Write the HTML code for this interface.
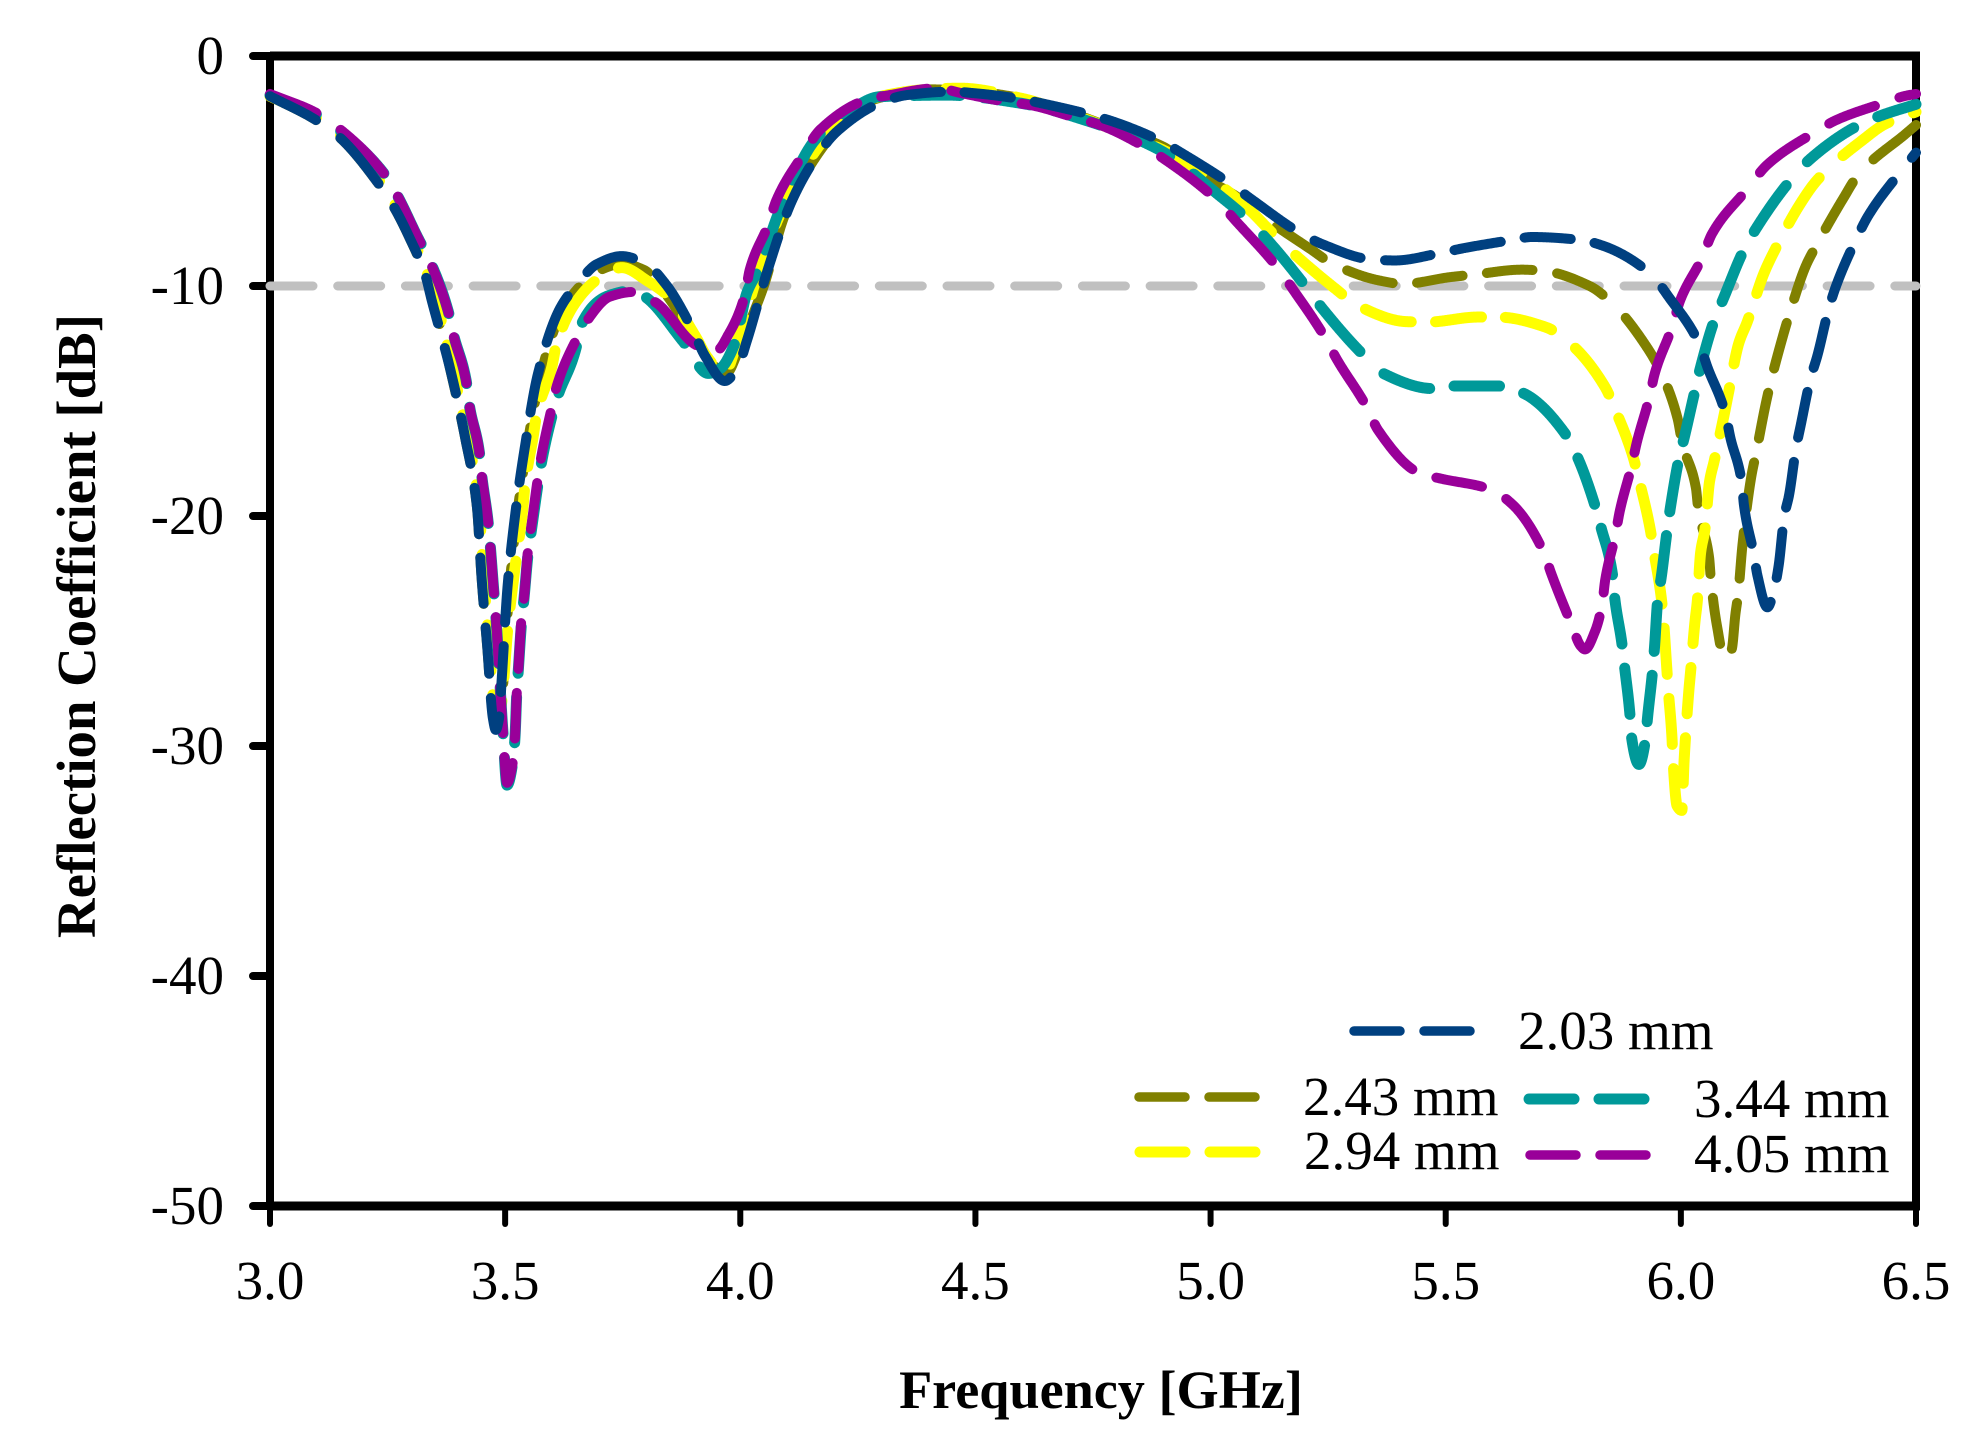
<!DOCTYPE html>
<html lang="en">
<head>
<meta charset="utf-8">
<title>Reflection Coefficient vs Frequency</title>
<style>
html,body{margin:0;padding:0;background:#fff;}
svg{display:block;}
text{font-family:"Liberation Serif","Times New Roman",serif;fill:#000;}
.tick{font-size:55px;}
.title{font-weight:bold;}
.leg{font-size:55px;}
</style>
</head>
<body>
<svg id="chart" width="1964" height="1451" viewBox="0 0 1964 1451" xmlns="http://www.w3.org/2000/svg">
  <rect width="1964" height="1451" fill="#ffffff"/>
  <g id="axes-layer"></g>
  <g id="series-layer"></g>
  <text class="title" font-size="54.2" x="1101" y="1408" text-anchor="middle">Frequency [GHz]</text>
  <text class="title" font-size="54.8" x="0" y="0" text-anchor="middle" transform="translate(95 626) rotate(-90)">Reflection Coefficient [dB]</text>
  <g>
    <g>
      <line x1="1354" y1="1031" x2="1474" y2="1031" stroke="#004080" stroke-width="9.5" stroke-linecap="round" stroke-dasharray="46 24"/>
      <text class="leg" x="1518" y="1049">2.03 mm</text>
    </g>
    <g>
      <line x1="1139" y1="1097" x2="1258" y2="1097" stroke="#808000" stroke-width="9.5" stroke-linecap="round" stroke-dasharray="46 24"/>
      <text class="leg" x="1303" y="1115">2.43 mm</text>
    </g>
    <g>
      <line x1="1140" y1="1152" x2="1259" y2="1152" stroke="#ffff00" stroke-width="11" stroke-linecap="round" stroke-dasharray="45 25"/>
      <text class="leg" x="1304" y="1169">2.94 mm</text>
    </g>
    <g>
      <line x1="1529" y1="1099" x2="1648" y2="1099" stroke="#009999" stroke-width="11" stroke-linecap="round" stroke-dasharray="45 25"/>
      <text class="leg" x="1694" y="1117">3.44 mm</text>
    </g>
    <g>
      <line x1="1530" y1="1155" x2="1649" y2="1155" stroke="#990099" stroke-width="9.5" stroke-linecap="round" stroke-dasharray="46 24"/>
      <text class="leg" x="1694" y="1172">4.05 mm</text>
    </g>
  </g>
</svg>
<script>
var xTickValues = [3.0, 3.5, 4.0, 4.5, 5.0, 5.5, 6.0, 6.5];
var xTickLabels = ["3.0", "3.5", "4.0", "4.5", "5.0", "5.5", "6.0", "6.5"];
var yTickValues = [0, -10, -20, -30, -40, -50];
var yTickLabels = ["0", "-10", "-20", "-30", "-40", "-50"];
var thresholdDb = -10;

var olive243Freq = [3.0,3.095,3.146,3.229,3.263,3.298,3.33,3.36,3.383,3.415,3.44,3.45,3.462,3.474,3.482,3.49,3.497,3.508,3.524,3.545,3.572,3.595,3.62,3.655,3.687,3.75,3.795,3.836,3.895,3.925,3.97,3.995,4.02,4.05,4.095,4.176,4.25,4.3,4.4,4.5,4.6,4.7,4.8,4.9,4.977,5.06,5.117,5.215,5.258,5.361,5.408,5.511,5.558,5.662,5.703,5.806,5.853,5.93,5.957,5.993,6.003,6.032,6.037,6.06,6.064,6.077,6.092,6.108,6.116,6.122,6.131,6.15,6.16,6.18,6.19,6.217,6.23,6.266,6.29,6.346,6.377,6.48,6.5];
var olive243Db = [-1.75,-2.75,-3.5,-5.5,-6.55,-7.96,-9.5,-11.6,-13.6,-16.6,-19.6,-22.7,-25.7,-28.6,-29.1,-28.6,-27,-23.4,-20.2,-17.2,-14.2,-12.46,-11.1,-10.1,-9.46,-9.04,-9.3,-10.2,-12,-13,-13.8,-12.87,-11.6,-10,-6.9,-3.94,-2.2,-1.8,-1.45,-1.55,-1.85,-2.45,-3.2,-3.95,-5.17,-6.17,-7.07,-8.43,-9.02,-9.77,-9.91,-9.61,-9.51,-9.29,-9.33,-10,-10.73,-12.73,-13.72,-15.76,-16.83,-18.78,-19.7,-21.8,-22.8,-24.8,-26.14,-25.8,-24.27,-23.37,-21.26,-18.26,-17.26,-15.17,-14.26,-12.18,-11.28,-9.11,-8.17,-6.17,-5.17,-3.35,-3.0];

var yellow294Freq = [3.0,3.1,3.15,3.232,3.267,3.302,3.334,3.364,3.387,3.419,3.444,3.454,3.466,3.478,3.485,3.492,3.506,3.52,3.538,3.542,3.56,3.567,3.599,3.61,3.659,3.702,3.748,3.804,3.85,3.905,3.93,3.965,4.0,4.048,4.106,4.186,4.25,4.3,4.4,4.467,4.6,4.7,4.8,4.928,5.019,5.09,5.117,5.164,5.266,5.311,5.417,5.46,5.569,5.61,5.714,5.761,5.839,5.861,5.898,5.911,5.934,5.942,5.958,5.963,5.97,5.973,5.981,5.983,5.992,6.002,6.007,6.017,6.021,6.03,6.035,6.042,6.051,6.061,6.071,6.092,6.102,6.123,6.141,6.177,6.199,6.255,6.29,6.388,6.434,6.5];
var yellow294Db = [-1.75,-2.7,-3.45,-5.4,-6.5,-7.9,-9.45,-11.5,-13.5,-16.5,-19.5,-22.6,-25.6,-28.5,-28.9,-28.2,-24.8,-22.4,-19.6,-18.7,-16.5,-15.6,-13.54,-12.46,-10.46,-9.63,-9.2,-9.8,-10.5,-12.2,-13.1,-13.8,-11.96,-8.8,-5.96,-3.43,-2.15,-1.75,-1.45,-1.4,-1.85,-2.5,-3.25,-4.38,-5.6,-6.83,-7.4,-8.35,-10.13,-10.83,-11.55,-11.57,-11.35,-11.35,-11.8,-12.43,-14.4,-15.4,-17.4,-18.43,-20.48,-21.47,-23.5,-24.5,-26.6,-27.5,-29.6,-30.5,-32.6,-32.8,-30.6,-27.6,-26.7,-24.6,-23.7,-21.6,-20.6,-18.5,-17.6,-15.6,-14.57,-12.5,-11.57,-9.43,-8.47,-6.39,-5.39,-3.63,-2.96,-2.43];

var teal344Freq = [3.0,3.1,3.146,3.242,3.27,3.312,3.344,3.379,3.39,3.417,3.424,3.445,3.45,3.464,3.468,3.476,3.48,3.495,3.504,3.517,3.521,3.525,3.528,3.535,3.54,3.549,3.556,3.57,3.578,3.599,3.61,3.652,3.659,3.723,3.772,3.797,3.878,3.932,3.957,3.989,4.014,4.038,4.084,4.159,4.23,4.297,4.439,4.595,4.744,4.892,5.019,5.071,5.117,5.2,5.237,5.325,5.37,5.473,5.519,5.62,5.667,5.756,5.781,5.817,5.83,5.855,5.859,5.875,5.88,5.892,5.895,5.911,5.925,5.929,5.94,5.944,5.951,5.958,5.971,5.978,5.996,6.007,6.03,6.041,6.071,6.09,6.134,6.16,6.23,6.274,6.376,6.42,6.5];
var teal344Db = [-1.7,-2.55,-3.2,-5.1,-6.04,-7.8,-9.1,-11.1,-12.1,-14.1,-15.2,-17.2,-18.2,-20.3,-21.2,-23.3,-24.3,-29.3,-31.7,-30.6,-29.6,-27.6,-26.7,-24.6,-23.6,-21.6,-20.6,-18.6,-17.6,-15.7,-14.9,-12.6,-11.8,-10.4,-10.2,-10.46,-12.4,-13.8,-13.6,-12.46,-10.3,-9.3,-6.7,-3.65,-2.4,-1.77,-1.7,-2.05,-2.86,-4.09,-6.07,-6.96,-7.91,-9.96,-10.96,-13,-13.83,-14.46,-14.35,-14.35,-14.68,-16.48,-17.48,-19.52,-20.48,-22.6,-23.5,-25.6,-26.5,-28.7,-29.6,-30.8,-29.7,-28.8,-26.7,-25.7,-23.6,-22.7,-20.6,-19.6,-17.5,-16.6,-14.55,-13.6,-11.5,-10.57,-8.43,-7.5,-5.48,-4.5,-3.03,-2.63,-2.1];

var purple405Freq = [3.0,3.1,3.146,3.242,3.27,3.312,3.344,3.379,3.39,3.417,3.424,3.445,3.45,3.464,3.468,3.476,3.48,3.495,3.504,3.517,3.521,3.525,3.528,3.535,3.54,3.549,3.556,3.57,3.578,3.599,3.61,3.652,3.673,3.723,3.772,3.819,3.91,3.95,3.975,4.01,4.02,4.06,4.077,4.133,4.17,4.27,4.318,4.42,4.467,4.566,4.616,4.715,4.765,4.864,4.91,5.013,5.055,5.143,5.176,5.244,5.268,5.332,5.356,5.447,5.491,5.594,5.641,5.709,5.724,5.766,5.787,5.796,5.817,5.833,5.839,5.861,5.87,5.896,5.906,5.934,5.944,5.981,5.999,6.046,6.066,6.141,6.183,6.286,6.331,6.438,6.476,6.5];
var purple405Db = [-1.65,-2.49,-3.14,-5.1,-6.04,-7.8,-9.13,-11.13,-12.13,-14.13,-15.2,-17.2,-18.2,-20.3,-21.2,-23.3,-24.3,-29.3,-31.6,-30.6,-29.6,-27.6,-26.7,-24.4,-23.6,-21.4,-20.4,-18.3,-17.3,-15.3,-14.34,-12.3,-11.54,-10.46,-10.26,-10.7,-12.6,-12.8,-12.1,-10.38,-9.3,-7.3,-6.26,-4.3,-3.2,-1.9,-1.7,-1.4,-1.6,-1.99,-2.13,-2.7,-3,-4,-4.6,-6.26,-7.2,-9.22,-10.17,-12.26,-13.17,-15.26,-16.26,-18.16,-18.38,-18.83,-19.48,-21.6,-22.48,-24.64,-25.65,-25.8,-25.04,-23.8,-22.8,-20.8,-19.8,-17.76,-16.83,-14.77,-13.84,-11.8,-10.6,-8.74,-7.74,-5.79,-4.74,-3.3,-2.78,-2,-1.74,-1.65];

var navy203Freq = [3.0,3.095,3.146,3.229,3.263,3.298,3.33,3.344,3.383,3.415,3.44,3.45,3.462,3.474,3.48,3.487,3.493,3.505,3.521,3.542,3.57,3.617,3.652,3.695,3.748,3.8,3.843,3.9,3.925,3.967,3.996,4.014,4.056,4.109,4.162,4.205,4.303,4.354,4.449,4.499,4.598,4.648,4.747,4.797,4.896,4.945,5.045,5.091,5.19,5.242,5.34,5.392,5.486,5.537,5.641,5.683,5.787,5.833,5.937,5.975,6.04,6.056,6.095,6.105,6.13,6.134,6.155,6.163,6.184,6.2,6.208,6.22,6.23,6.245,6.255,6.276,6.29,6.315,6.33,6.373,6.398,6.47,6.5];
var navy203Db = [-1.75,-2.75,-3.5,-5.5,-6.55,-7.96,-9.5,-10.63,-13.6,-16.6,-19.6,-22.7,-25.7,-28.8,-29.3,-28.8,-27,-23.1,-20,-17,-13.8,-10.96,-9.96,-9.05,-8.7,-9.05,-9.96,-11.96,-13.04,-14.13,-13.46,-12.38,-9.45,-6.33,-4.38,-3.29,-1.99,-1.7,-1.55,-1.62,-1.88,-2.09,-2.57,-2.88,-3.72,-4.3,-5.6,-6.29,-7.69,-8.22,-8.84,-8.89,-8.58,-8.36,-8,-7.87,-8,-8.24,-9.5,-10.5,-12.55,-13.5,-15.57,-16.57,-18.6,-19.5,-21.65,-22.6,-23.97,-23.05,-22.15,-20,-19.1,-17.04,-16.04,-14,-13.05,-10.96,-10,-7.96,-6.96,-4.96,-4.2];

var NS = "http://www.w3.org/2000/svg";
var seriesLayer = document.getElementById("series-layer");
var axesLayer = document.getElementById("axes-layer");
var DASH_ON = 46;
var DASH_OFF = 24;
function xScale(f){ return 270 + (f - 3.0) * (1916 - 270) / 3.5; }
function yScale(db){ return 56 + (0 - db) * (1206 - 56) / 50; }

/* Monotone cubic sampled about every pixel, then cut into dashes whose
   length is counted in pixel steps (the larger of dx and dy), which is how the
   source renderer spaces its dash pattern. */
function dashedPath(xs, ys){
  var n = xs.length, dx = [], m = [], t = [], i;
  for (i = 0; i < n - 1; i++){ dx[i] = xs[i+1] - xs[i]; m[i] = (ys[i+1] - ys[i]) / dx[i]; }
  t[0] = m[0]; t[n-1] = m[n-2];
  for (i = 1; i < n - 1; i++){
    if (m[i-1] * m[i] <= 0) { t[i] = 0; }
    else { t[i] = 3 * (dx[i-1] + dx[i]) / ((2*dx[i] + dx[i-1]) / m[i-1] + (dx[i] + 2*dx[i-1]) / m[i]); }
  }
  var d = "", on = true, acc = 0, px = xs[0], py = ys[0];
  d += "M" + px.toFixed(2) + " " + py.toFixed(2);
  for (i = 0; i < n - 1; i++){
    var steps = Math.max(6, Math.ceil(Math.max(dx[i], Math.abs(ys[i+1] - ys[i])) * 1.5));
    for (var k = 1; k <= steps; k++){
      var u = k / steps, u2 = u*u, u3 = u2*u;
      var qx = xs[i] + dx[i] * u;
      var qy = (2*u3 - 3*u2 + 1)*ys[i] + (u3 - 2*u2 + u)*dx[i]*t[i] + (-2*u3 + 3*u2)*ys[i+1] + (u3 - u2)*dx[i]*t[i+1];
      acc += Math.max(Math.abs(qx - px), Math.abs(qy - py));
      if (on){
        d += "L" + qx.toFixed(2) + " " + qy.toFixed(2);
        if (acc >= DASH_ON){ on = false; acc -= DASH_ON; }
      } else if (acc >= DASH_OFF){
        on = true; acc -= DASH_OFF;
        d += "M" + qx.toFixed(2) + " " + qy.toFixed(2);
      }
      px = qx; py = qy;
    }
  }
  return d;
}

var threshold = document.createElementNS(NS, "line");


threshold.setAttribute("x1", xScale(3.0));
threshold.setAttribute("x2", xScale(6.5));
threshold.setAttribute("y1", yScale(thresholdDb));
threshold.setAttribute("y2", yScale(thresholdDb));
threshold.setAttribute("stroke", "#c0c0c0");
threshold.setAttribute("stroke-width", "9");
threshold.setAttribute("stroke-linecap", "round");
threshold.setAttribute("stroke-dasharray", "43 24.7");
seriesLayer.appendChild(threshold);

function drawSeries(name, freq, db, color, width){
  var p = document.createElementNS(NS, "path");
  
  
  p.setAttribute("d", dashedPath(freq.map(xScale), db.map(yScale)));
  p.setAttribute("fill", "none");
  p.setAttribute("stroke", color);
  p.setAttribute("stroke-width", width);
  p.setAttribute("stroke-linecap", "round");
  p.setAttribute("stroke-linejoin", "round");
  seriesLayer.appendChild(p);
}
drawSeries("series-2-43-mm", olive243Freq, olive243Db, "#808000", 10);
drawSeries("series-2-94-mm", yellow294Freq, yellow294Db, "#ffff00", 11);
drawSeries("series-3-44-mm", teal344Freq, teal344Db, "#009999", 11);
drawSeries("series-4-05-mm", purple405Freq, purple405Db, "#990099", 10);
drawSeries("series-2-03-mm", navy203Freq, navy203Db, "#004080", 10);

function addLine(name, x1, y1, x2, y2, w, cap){
  var l = document.createElementNS(NS, "line");
  
  
  l.setAttribute("x1", x1);
  l.setAttribute("y1", y1);
  l.setAttribute("x2", x2);
  l.setAttribute("y2", y2);
  l.setAttribute("stroke", "#000");
  l.setAttribute("stroke-width", w);
  l.setAttribute("stroke-linecap", cap);
  axesLayer.appendChild(l);
}
function addText(name, x, y, anchor, str){
  var t = document.createElementNS(NS, "text");
  
  
  t.setAttribute("x", x);
  t.setAttribute("y", y);
  t.setAttribute("text-anchor", anchor);
  t.setAttribute("class", "tick");
  t.textContent = str;
  axesLayer.appendChild(t);
}
addLine("left-axis", xScale(3.0), yScale(0), xScale(3.0), yScale(-50), 8, "butt");
addLine("right-axis", xScale(6.5), yScale(0) - 4, xScale(6.5), yScale(-50), 8, "butt");
addLine("top-axis", xScale(3.0), yScale(0), xScale(6.5) + 4, yScale(0), 9, "butt");
addLine("bottom-axis", xScale(3.0), yScale(-50), xScale(6.5) + 4, yScale(-50), 9, "butt");

yTickValues.forEach(function(v, i){
  addLine("y-tick-mark", xScale(3.0) - 17, yScale(v), xScale(3.0), yScale(v), 8, "round");
  addText("y-tick-label", 224, yScale(v) + 18, "end", yTickLabels[i]);
});
xTickValues.forEach(function(v, i){
  addLine("x-tick-mark", xScale(v), yScale(-50), xScale(v), yScale(-50) + 18, 6, "round");
  addText("x-tick-label", xScale(v), 1299, "middle", xTickLabels[i]);
});
</script>
</body>
</html>
